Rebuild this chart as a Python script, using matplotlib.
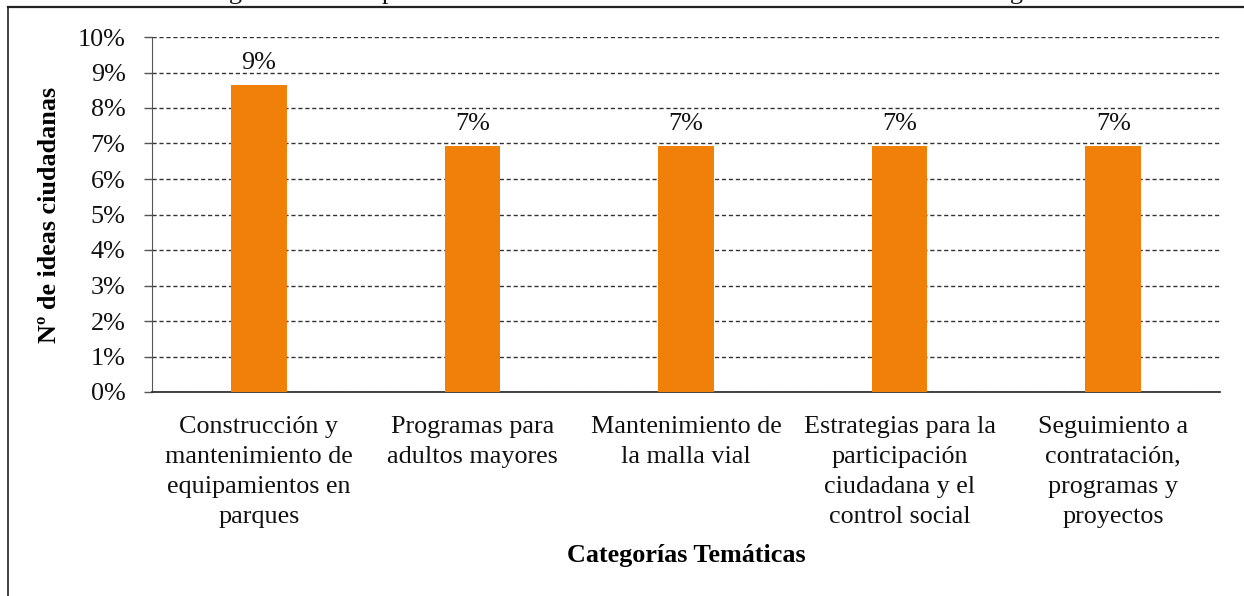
import matplotlib
matplotlib.use("Agg")
import matplotlib.pyplot as plt
from matplotlib.lines import Line2D
from matplotlib.ticker import FuncFormatter

categories = [
    "Construcción y\nmantenimiento de\nequipamientos en\nparques",
    "Programas para\nadultos mayores",
    "Mantenimiento de\nla malla vial",
    "Estrategias para la\nparticipación\nciudadana y el\ncontrol social",
    "Seguimiento a\ncontratación,\nprogramas y\nproyectos",
]
values = [0.0865, 0.0693, 0.0693, 0.0693, 0.0693]
value_labels = ["9%", "7%", "7%", "7%", "7%"]
y_ticks = [0.00, 0.01, 0.02, 0.03, 0.04, 0.05, 0.06, 0.07, 0.08, 0.09, 0.10]
title = "Figura 3. Temas priorizados con más ideas ciudadanas en la Localidad de Engativá"
x_label = "Categorías Temáticas"
y_label = "Nº de ideas ciudadanas"

plt.rcParams["font.family"] = ["Liberation Serif", "DejaVu Serif"]
FS = 18.8

W, H = 1244, 596
fig = plt.figure(figsize=(W / 100, H / 100), dpi=100)
ax = fig.add_axes([152 / W, 1 - 392 / H, (1220 - 152) / W, (392 - 37) / H])

x = list(range(len(categories)))
ax.bar(x, values, width=0.26, color="#F0800A", zorder=3)
for xi, v, lab in zip(x, values, value_labels):
    ax.annotate(lab, (xi, v), xytext=(0, 8), textcoords="offset points",
                ha="center", va="bottom", fontsize=FS, color="#111111")

ax.set_xlim(-0.5, len(categories) - 0.5)
ax.set_ylim(0, 0.10)
ax.set_yticks(y_ticks)
ax.yaxis.set_major_formatter(FuncFormatter(lambda v, p: f"{round(v * 100)}%"))
ax.set_xticks(x)
ax.set_xticklabels(categories, fontsize=FS, linespacing=1.47, color="#111111")
ax.tick_params(axis="x", length=0, pad=17)
ax.tick_params(axis="y", length=6, width=1, color="#555555", pad=13,
               labelsize=FS, labelcolor="#111111", direction="out")

ax.grid(axis="y", linestyle=(0, (3, 2)), color="#333333", linewidth=1, zorder=0)
ax.set_axisbelow(True)
for s in ["top", "right"]:
    ax.spines[s].set_visible(False)
ax.spines["left"].set_color("#555555")
ax.spines["bottom"].set_color("#333333")
ax.spines["bottom"].set_linewidth(1.3)

ax.set_xlabel(x_label, fontsize=FS, fontweight="bold", labelpad=12)
ax.set_ylabel(y_label, fontsize=FS, fontweight="bold", labelpad=12)

# outer frame (top and left only visible)
fig.add_artist(Line2D([8 / W, 8 / W], [0, 1 - 7 / H], color="#333333", lw=1.3,
                      transform=fig.transFigure))
fig.add_artist(Line2D([8 / W, 1], [1 - 7 / H, 1 - 7 / H], color="#222222", lw=1.6,
                      transform=fig.transFigure))
# title, clipped at the top edge as in the reference
fig.text(0.515, 1 + 1 / H, title, ha="center", va="baseline", fontsize=FS,
         color="#111111")

fig.savefig("out.png", dpi=100)
